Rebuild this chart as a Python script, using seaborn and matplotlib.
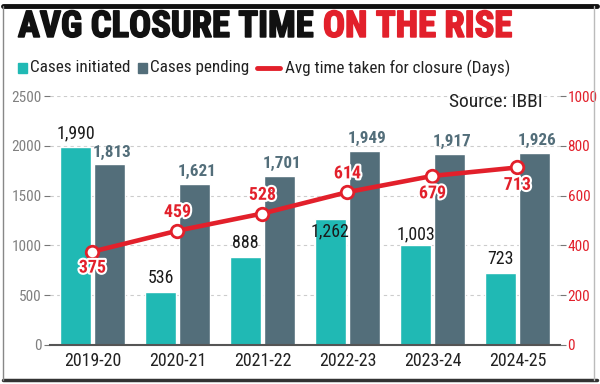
import matplotlib
matplotlib.use("Agg")
import matplotlib.pyplot as plt
import seaborn as sns
import pandas as pd
from matplotlib.patches import Rectangle
from matplotlib.lines import Line2D
import matplotlib.patheffects as pe
from matplotlib import font_manager as fm

years = ["2019-20", "2020-21", "2021-22", "2022-23", "2023-24", "2024-25"]
cases_initiated = [1990, 536, 888, 1262, 1003, 723]
cases_pending = [1813, 1621, 1701, 1949, 1917, 1926]
avg_days = [375, 459, 528, 614, 679, 713]

TEAL = "#20b9b4"
GRAY = "#536e7a"
RED = "#e2202b"

sns.set_theme(style="white")

names = {f.name for f in fm.fontManager.ttflist}
narrow = None
for cand in ["Liberation Sans Narrow", "DejaVu Sans Condensed", "Roboto Condensed",
             "Open Sans Condensed", "Noto Sans Condensed"]:
    if cand in names:
        narrow = cand
        break
FONT = narrow if narrow else "DejaVu Sans"
plt.rcParams["font.family"] = [FONT, "DejaVu Sans"]
k = 1.12 if narrow else 1.0  # size boost for narrow fonts

df = pd.DataFrame({
    "year": years * 2,
    "value": cases_initiated + cases_pending,
    "series": ["Cases initiated"] * 6 + ["Cases pending"] * 6,
})

fig = plt.figure(figsize=(6, 3.84), dpi=100)
ax = fig.add_axes([0.0833, 0.1016, 0.85, 0.6484])

sns.barplot(data=df, x="year", y="value", hue="series",
            palette=[TEAL, GRAY], width=0.8, gap=0.1, ax=ax,
            legend=False, saturation=1)
ax.set_ylim(0, 2500)
ax.set_xlim(-0.5, 5.5)
ax.set_yticks(range(0, 2501, 500))
ax.yaxis.grid(True, linestyle=(0, (3, 3)), color="#cccccc", linewidth=0.8)
ax.set_axisbelow(True)
for s in ["top", "right", "left"]:
    ax.spines[s].set_visible(False)
ax.spines["bottom"].set_color("#555555")
ax.spines["bottom"].set_linewidth(1.5)
ax.set_xlabel("")
ax.set_ylabel("")
ax.tick_params(axis="y", length=4, color="#777777", labelsize=9.8 * k, labelcolor="#808080", pad=2, width=0.8)
ax.tick_params(axis="x", length=0, labelsize=11.5 * k, labelcolor="#222222", pad=5)

ax2 = ax.twinx()
ax2.set_position(ax.get_position())
sns.lineplot(x=list(range(6)), y=avg_days, ax=ax2, color=RED, linewidth=3.3,
             marker="o", markersize=9, markerfacecolor="white",
             markeredgecolor=RED, markeredgewidth=2)
ax2.set_ylim(0, 1000)
ax2.set_yticks(range(0, 1001, 200))
for s in ["top", "right", "left", "bottom"]:
    ax2.spines[s].set_visible(False)
ax2.tick_params(axis="y", length=4, color="#777777", labelsize=9.8 * k, labelcolor=RED, pad=1.5, width=0.8)
ax2.grid(False)

# bar labels
init_off = [3.5, 3.5, 3.5, -15, 1.5, 3.5]
for i, v in enumerate(cases_initiated):
    ax.annotate(f"{v:,}", (i - 0.2, v), xytext=(0, init_off[i]), textcoords="offset points",
                ha="center", va="bottom", fontsize=11.5 * k, color="#1a1a1a")
for i, v in enumerate(cases_pending):
    ax.annotate(f"{v:,}", (i + 0.2, v), xytext=(2, 3.5), textcoords="offset points",
                ha="center", va="bottom", fontsize=11 * k, color=GRAY, fontweight="bold")
line_off = [-18, 7, 7, 7, -19, -19]
for i, v in enumerate(avg_days):
    ax2.annotate(f"{v}", (i, v), xytext=(0, line_off[i]), textcoords="offset points",
                 ha="center", va="bottom", fontsize=11.5 * k, color=RED, fontweight="bold",
                 path_effects=[pe.withStroke(linewidth=3, foreground="white")])

ax2.text(0.965, 0.976, "Source: IBBI", transform=ax2.transAxes, ha="right", va="center",
         fontsize=12.5 * k, color="#222222")

fig.canvas.draw()
W = fig.bbox.width

# title
t1 = fig.text(18 / W, 0.93, "AVG CLOSURE TIME ", fontsize=24, fontweight="heavy",
              color="#111111", va="center", ha="left",
              path_effects=[pe.withStroke(linewidth=1.2, foreground="#111111")])
t2 = fig.text(0.5, 0.93, "ON THE RISE", fontsize=24, fontweight="heavy", color=RED,
              va="center", ha="left",
              path_effects=[pe.withStroke(linewidth=1.2, foreground=RED)])
fig.canvas.draw()
w1 = t1.get_window_extent().width
w2 = t2.get_window_extent().width
scale = 494 / (w1 + w2)
t1.set_fontsize(24 * scale)
t2.set_fontsize(24 * scale)
fig.canvas.draw()
t2.set_x((t1.get_window_extent().x1 + 1) / W)

# legend row
ly = 0.823
fig.add_artist(Rectangle((18 / W, ly - 0.014), 9 / W, 0.028, color=TEAL, transform=fig.transFigure))
a = fig.text(30 / W, ly, "Cases initiated", fontsize=11, va="center", color="#222222")
fig.add_artist(Rectangle((138 / W, ly - 0.014), 9 / W, 0.028, color=GRAY, transform=fig.transFigure))
b = fig.text(150 / W, ly, "Cases pending", fontsize=11, va="center", color="#222222")
fig.add_artist(Line2D([257 / W, 280 / W], [ly, ly], color=RED, linewidth=3.5, transform=fig.transFigure))
c = fig.text(285 / W, ly, "Avg time taken for closure (Days)", fontsize=11, va="center",
             color="#222222")
fig.canvas.draw()
sz = 11 * 225 / c.get_window_extent().width
for t in (a, b, c):
    t.set_fontsize(sz)

# frame
fig.add_artist(Line2D([0.005, 0.995], [0.985, 0.985], color="#111111", linewidth=3.5, transform=fig.transFigure))
fig.add_artist(Line2D([0.005, 0.995], [0.01, 0.01], color="#333333", linewidth=2.5, transform=fig.transFigure))
fig.add_artist(Line2D([0.005, 0.005], [0.01, 0.985], color="#888888", linewidth=1, transform=fig.transFigure))
fig.add_artist(Line2D([0.99, 0.99], [0.01, 0.985], color="#bbbbbb", linewidth=1, transform=fig.transFigure))

fig.savefig("out.png", dpi=100)
